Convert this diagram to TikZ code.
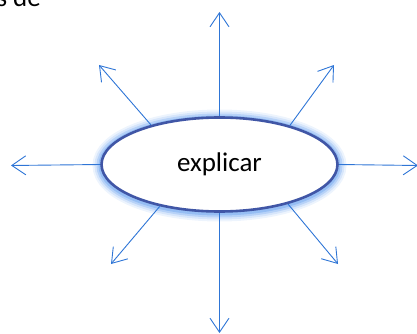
\documentclass[tikz,border=0pt]{standalone}
\usepackage{fontspec}
\setmainfont{Carlito}
\usetikzlibrary{positioning, arrows.meta, shapes.geometric}
\definecolor{rayblue}{RGB}{46,117,214}
\definecolor{rimblue}{RGB}{64,86,166}
\definecolor{glowblue}{RGB}{110,165,240}

\tikzset{
  ray/.style={draw=rayblue, line width=0.9pt,
    -{Straight Barb[length=14pt, width=19pt, line width=0.9pt]}},
  hub/.style={ellipse, draw=rimblue, line width=2.6pt, fill=white,
    minimum width=236pt, minimum height=94pt, inner sep=0pt,
    font=\fontsize{27}{32}\selectfont}
}

\begin{document}
\begin{tikzpicture}[x=1pt, y=-1pt]
  \useasboundingbox (0,0) rectangle (417,334);
  \node[anchor=base east, font=\fontsize{27}{32}\selectfont, inner sep=0pt]
    (cut) at (41,7) {s de};
  % glow round the ellipse
  \foreach \w/\o in {18/0.12, 14/0.18, 10/0.3, 6/0.45}
    \draw[glowblue, line width=\w pt, opacity=\o]
      (219.5,165.5) ellipse [x radius=118pt, y radius=47pt];
  \node[hub] (hub) at (219.5,164.5) {explicar};
  % free ends
  \coordinate (n)  at (219.5,12);
  \coordinate (s)  at (219.5,333);
  \coordinate (w)  at (11,165.5);
  \coordinate (e)  at (418,165.5);
  \coordinate (nw) at (99,65);
  \coordinate (ne) at (334,65);
  \coordinate (sw) at (111,264);
  \coordinate (se) at (338,264);
  % arrows
  \draw[ray] (hub.north) -- (n);
  \draw[ray] (hub.south) -- (s);
  \draw[ray] (hub.west) -- (w);
  \draw[ray] (hub.east) -- (e);
  \draw[ray] (hub.150) -- (nw);
  \draw[ray] (hub.29) -- (ne);
  \draw[ray] (hub.215) -- (sw);
  \draw[ray] (hub.330) -- (se);
\end{tikzpicture}
\end{document}
